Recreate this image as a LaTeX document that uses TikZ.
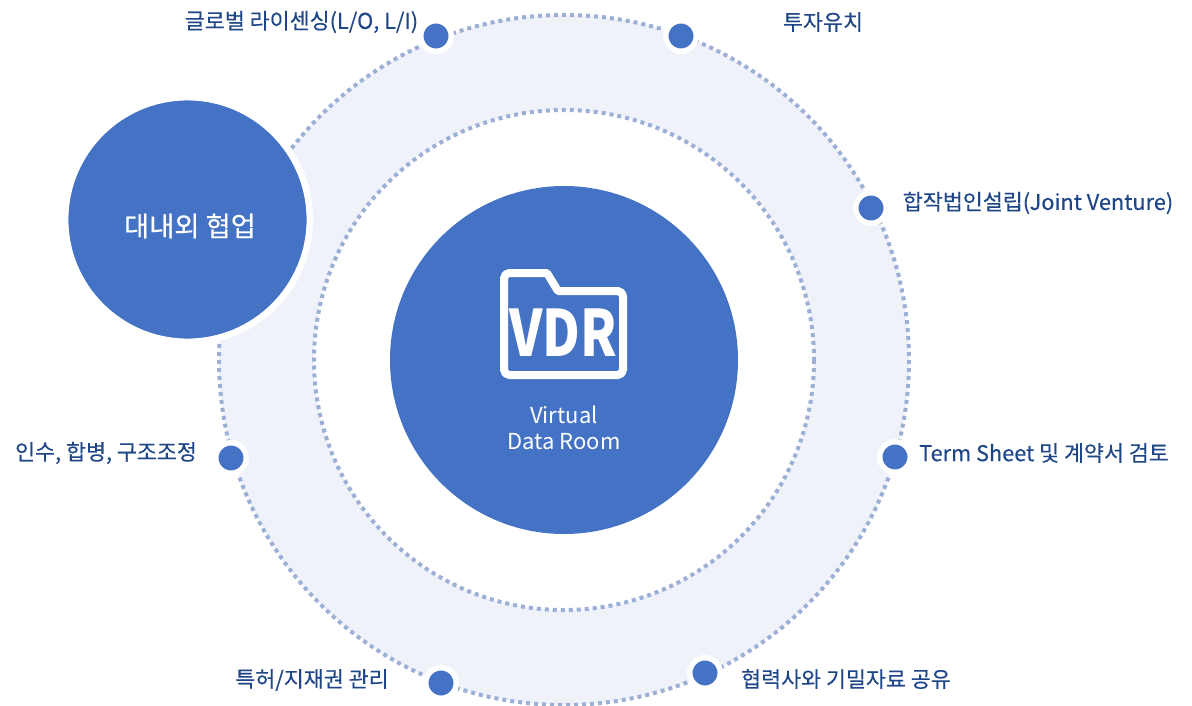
\documentclass[tikz,border=0pt]{standalone}
\usepackage{fontspec}
\setmainfont{Noto Sans CJK KR}
\newfontfamily\tagfont[FakeBold=0.3]{Noto Sans CJK KR}
\definecolor{vdrblue}{RGB}{68,114,196}
\definecolor{vdrband}{RGB}{239,242,249}
\definecolor{vdrdot}{RGB}{157,175,214}
\definecolor{vdrtext}{RGB}{31,71,136}
\tikzset{
  ring/.style={draw=vdrdot,line width=3pt,dash pattern=on 3pt off 3pt},
  hub/.style={circle,fill=vdrblue,inner sep=0pt,text=white,align=center},
  marker/.style={circle,fill=vdrblue,draw=white,line width=4.1pt,minimum size=22.9pt,inner sep=0pt},
  tag/.style={text=vdrtext,font=\tagfont\fontsize{16.3pt}{19pt}\selectfont,inner sep=0pt}
}
\begin{document}
\begin{tikzpicture}[x=0.75pt,y=0.75pt,yscale=-1,xscale=1]
\useasboundingbox (0,0) rectangle (1192,706);

%Shape: Band
\fill [vdrband] (564,360) circle (345);
\fill [white] (564,360) circle (250);
%Shape: Rings
\draw [ring] (564,360) circle (345);
\draw [ring] (564,360) circle (250);

%Shape: Circle
\node [hub,minimum size=261pt] (vdr) at (564,360) {};
\node [hub,draw=white,line width=4.9pt,minimum size=183.5pt] (partner) at (187.5,219.5) {};
\node [text=white,inner sep=0pt,font=\tagfont\fontsize{20.5pt}{24pt}\selectfont] (partnertag) at (190,226) {대내외 협업};

%Shape: Folder
\draw [white,line width=6pt,line join=round,rounded corners=4pt] (525,273) -- (504,273) -- (504,375) -- (623,375) -- (623,291) [sharp corners] -- (558,291) -- (547,273) -- (525,273);
\node [text=white,inner sep=0pt,font=\bfseries\fontsize{48pt}{48pt}\selectfont,xscale=0.81,yscale=-1,transform shape] (vdrname) at (563,333) {VDR};
\node [text=white,inner sep=0pt,align=center,font=\fontsize{16.5pt}{19.5pt}\selectfont] (vdrlabel) at (564,428) {Virtual\\Data Room};

%Shape: Markers
\node [marker] (license) at (436,36) {};
\node [marker] (invest) at (681,36) {};
\node [marker] (venture) at (871,208) {};
\node [marker] (sheet) at (895,457) {};
\node [marker] (secret) at (705,673) {};
\node [marker] (patent) at (441,683) {};
\node [marker] (merger) at (231,458) {};

%Shape: Labels
\node [tag] (licensetag) at (301.5,22) {글로벌 라이센싱(L/O, L/I)};
\node [tag] (investtag) at (823,22) {투자유치};
\node [tag] (venturetag) at (1038,203) {합작법인설립(Joint Venture)};
\node [tag] (sheettag) at (1044,453) {Term Sheet 및 계약서 검토};
\node [tag] (secrettag) at (846,679) {협력사와 기밀자료 공유};
\node [tag] (patenttag) at (312,680) {특허/지재권 관리};
\node [tag] (mergertag) at (106,453) {인수, 합병, 구조조정};

\end{tikzpicture}
\end{document}
